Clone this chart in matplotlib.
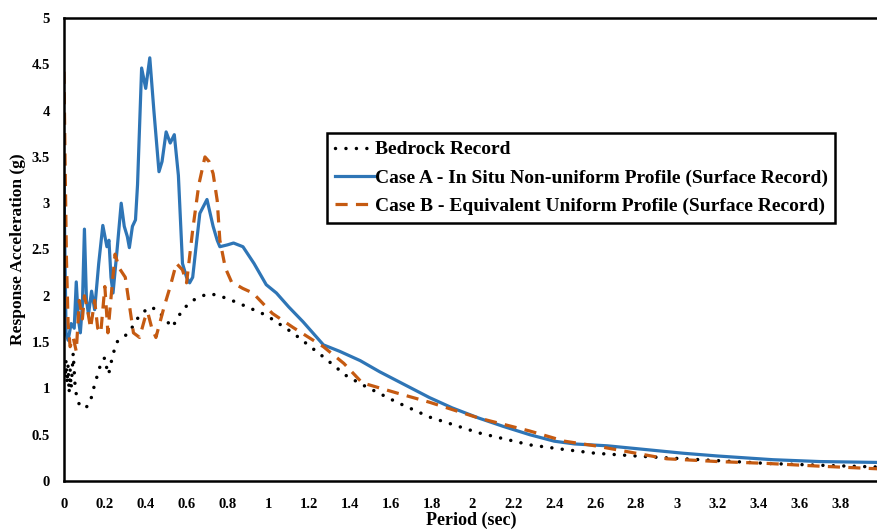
import matplotlib
matplotlib.use("Agg")
import matplotlib.pyplot as plt

# Bedrock record
bed_x = [0, 0.005, 0.01, 0.015, 0.02, 0.025, 0.03, 0.035, 0.045, 0.055, 0.065, 0.08, 0.094, 0.11,
         0.127, 0.145, 0.167, 0.185, 0.2, 0.215, 0.225, 0.235, 0.258, 0.29, 0.32, 0.37, 0.42, 0.455,
         0.49, 0.53, 0.58, 0.63, 0.70, 0.75, 0.845, 0.99, 1.12, 1.27, 1.38, 1.46, 1.63, 1.79, 2.03,
         2.28, 2.45, 2.6, 2.8, 2.95, 3.2, 3.44, 3.7, 4.0]
bed_y = [1.25, 1.1, 1.3, 1.05, 1.25, 0.95, 1.2, 1.0, 1.38, 1.0, 0.88, 0.8, 0.79, 0.8,
         0.84, 1.0, 1.17, 1.3, 1.33, 1.15, 1.2, 1.33, 1.5, 1.55, 1.61, 1.79, 1.88, 1.85,
         1.76, 1.66, 1.85, 1.95, 2.02, 2.01, 1.93, 1.79, 1.6, 1.34, 1.14, 1.04, 0.85, 0.69, 0.52,
         0.39, 0.34, 0.30, 0.27, 0.25, 0.22, 0.19, 0.17, 0.15]

# Case A - In situ non-uniform profile
a_x = [0, 0.01, 0.02, 0.035, 0.05, 0.06, 0.07, 0.08, 0.09, 0.1, 0.11, 0.12, 0.135, 0.15, 0.17,
       0.19, 0.21, 0.22, 0.23, 0.24, 0.26, 0.28, 0.295, 0.31, 0.32, 0.335, 0.35, 0.36, 0.38, 0.40,
       0.42, 0.44, 0.465, 0.48, 0.50, 0.52, 0.54, 0.56, 0.58, 0.60, 0.615, 0.63, 0.65, 0.665, 0.70,
       0.73, 0.75, 0.763, 0.80, 0.83, 0.876, 0.93, 0.99, 1.04, 1.1, 1.17, 1.27, 1.35, 1.45, 1.545,
       1.65, 1.79, 1.9, 2.03, 2.15, 2.28, 2.4, 2.5, 2.66, 2.8, 3.03, 3.2, 3.47, 3.7, 4.0]
a_y = [3.2, 1.6, 1.52, 1.7, 1.65, 2.15, 1.75, 1.6, 1.9, 2.72, 1.95, 1.8, 2.05, 1.85, 2.35,
       2.76, 2.53, 2.6, 2.2, 2.03, 2.5, 3.0, 2.75, 2.64, 2.52, 2.75, 2.82, 3.2, 4.46, 4.24,
       4.57, 4.0, 3.34, 3.45, 3.77, 3.65, 3.74, 3.3, 2.35, 2.2, 2.14, 2.2, 2.6, 2.89, 3.04,
       2.75, 2.6, 2.53, 2.55, 2.57, 2.53, 2.35, 2.12, 2.03, 1.88, 1.72, 1.47, 1.40, 1.30, 1.18,
       1.06, 0.90, 0.79, 0.68, 0.59, 0.50, 0.43, 0.40, 0.38, 0.35, 0.30, 0.27, 0.23, 0.21, 0.20]

# Case B - Equivalent uniform profile
b_x = [0, 0.005, 0.012, 0.02, 0.03, 0.045, 0.06, 0.075, 0.09, 0.1, 0.115, 0.13, 0.15, 0.165,
       0.18, 0.2, 0.215, 0.235, 0.25, 0.27, 0.3, 0.32, 0.34, 0.37, 0.395, 0.41, 0.43, 0.45, 0.49,
       0.52, 0.55, 0.58, 0.60, 0.63, 0.66, 0.69, 0.71, 0.73, 0.75, 0.763, 0.79, 0.82, 0.875, 0.925,
       1.02, 1.12, 1.27, 1.37, 1.46, 1.63, 1.79, 2.03, 2.28, 2.45, 2.6, 2.8, 2.95, 3.2, 3.44, 3.7, 4.0]
b_y = [4.42, 3.5, 2.4, 1.7, 1.45, 1.55, 1.4, 1.95, 1.75, 2.0, 1.85, 1.65, 1.95, 1.65,
       1.6, 2.1, 1.6, 2.1, 2.45, 2.3, 2.2, 1.9, 1.6, 1.55, 1.75, 1.82, 1.65, 1.55, 1.88,
       2.1, 2.35, 2.28, 2.14, 2.71, 3.2, 3.5, 3.45, 3.32, 3.03, 2.6, 2.3, 2.15, 2.08, 2.03,
       1.81, 1.66, 1.45, 1.27, 1.06, 0.95, 0.85, 0.68, 0.54, 0.43, 0.38, 0.30, 0.24, 0.21, 0.19, 0.16, 0.13]

labels = ["Bedrock Record",
          "Case A - In Situ Non-uniform Profile (Surface Record)",
          "Case B - Equivalent Uniform Profile (Surface Record)"]

x_ticks = [0, 0.2, 0.4, 0.6, 0.8, 1, 1.2, 1.4, 1.6, 1.8, 2, 2.2, 2.4, 2.6, 2.8, 3, 3.2, 3.4, 3.6, 3.8]
x_tick_labels = ["0", "0.2", "0.4", "0.6", "0.8", "1", "1.2", "1.4", "1.6", "1.8", "2", "2.2",
                 "2.4", "2.6", "2.8", "3", "3.2", "3.4", "3.6", "3.8"]
y_ticks = [0, 0.5, 1, 1.5, 2, 2.5, 3, 3.5, 4, 4.5, 5]
y_tick_labels = ["0", "0.5", "1", "1.5", "2", "2.5", "3", "3.5", "4", "4.5", "5"]

plt.rcParams['font.family'] = ['Liberation Serif', 'DejaVu Serif']
plt.rcParams['font.weight'] = 'bold'

fig = plt.figure(figsize=(8.78, 5.31), dpi=100)
ax = fig.add_axes([64/878, 1 - 481/531, (878 - 64)/878, (481 - 18)/531])

blue = '#2E75B6'
orange = '#C55A11'

ax.plot(bed_x, bed_y, color='black', lw=2.5, linestyle=(0, (0.01, 3.0)),
        dash_capstyle='round', label=labels[0])
ax.plot(a_x, a_y, color=blue, lw=2.3, label=labels[1])
ax.plot(b_x, b_y, color=orange, lw=2.3, linestyle=(0, (3.8, 2.6)),
        dash_capstyle='butt', label=labels[2])

ax.set_xlim(0, 3.985)
ax.set_ylim(0, 5)
ax.set_xticks(x_ticks)
ax.set_xticklabels(x_tick_labels)
ax.set_yticks(y_ticks)
ax.set_yticklabels(y_tick_labels)
ax.tick_params(axis='x', length=0, labelsize=10.5, pad=12)
ax.tick_params(axis='y', length=0, labelsize=10.5, pad=10)
for lab in ax.get_xticklabels() + ax.get_yticklabels():
    lab.set_fontweight('bold')

for s in ['left', 'bottom', 'top']:
    ax.spines[s].set_linewidth(1.8)
    ax.spines[s].set_color('black')
ax.spines['right'].set_visible(False)

ax.set_xlabel("Period (sec)", fontsize=13, fontweight='bold', labelpad=1)
ax.set_ylabel("Response Acceleration (g)", fontsize=12.5, fontweight='bold', labelpad=4)

leg = ax.legend(loc='upper left', bbox_to_anchor=(327/878, 1 - 133/531),
                bbox_transform=fig.transFigure, borderaxespad=0,
                prop={'family': 'Liberation Serif', 'weight': 'bold', 'size': 14},
                handlelength=2.0, handletextpad=0.05, labelspacing=0.55,
                borderpad=0.4, fancybox=False, framealpha=1, edgecolor='black')
leg.get_frame().set_linewidth(1.8)

fig.savefig("out.png", dpi=100)
